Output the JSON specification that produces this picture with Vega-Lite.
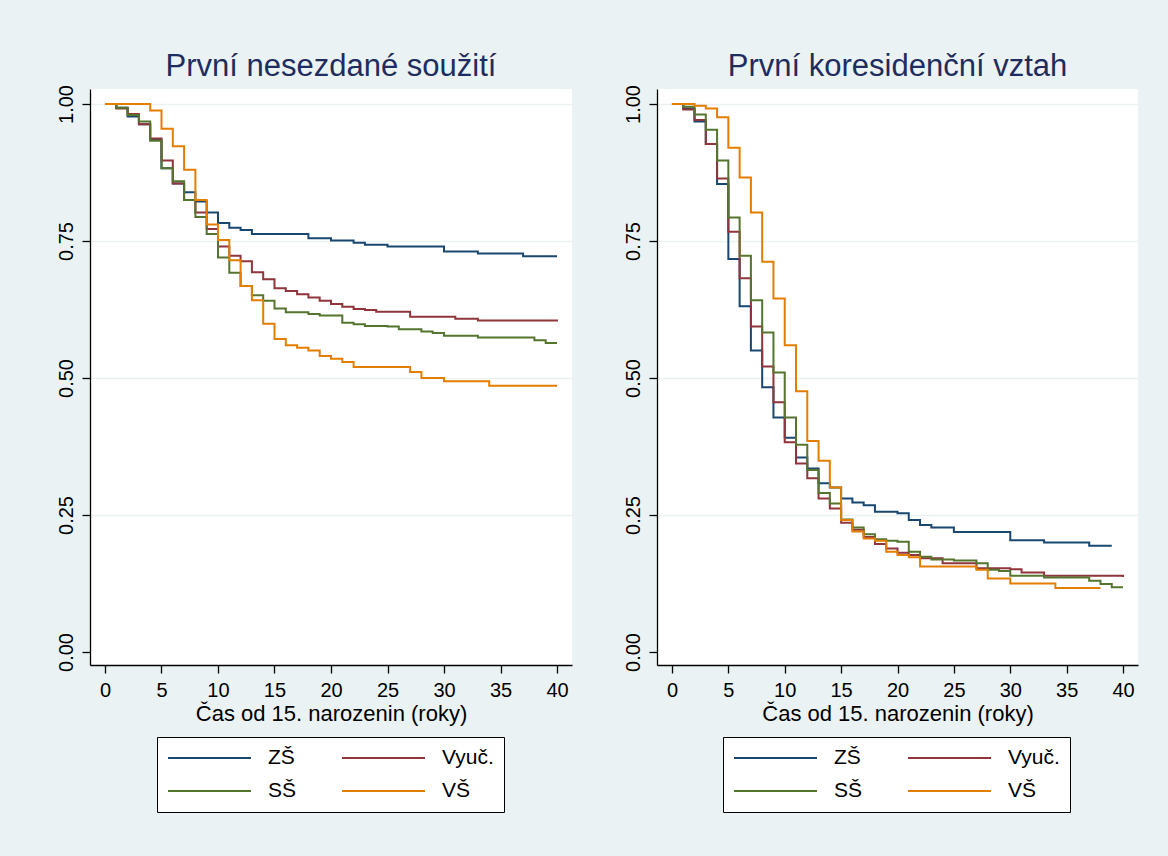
{
  "$schema": "https://vega.github.io/schema/vega-lite/v6.json",
  "background": "#EAF2F3",
  "padding": {"left": 56, "top": 50, "right": 30, "bottom": 46},
  "spacing": 51,
  "config": {
    "font": "Liberation Sans",
    "view": {"stroke": null, "fill": "white"},
    "title": {"fontSize": 31, "fontWeight": "normal", "color": "#1E2C5E", "anchor": "middle", "offset": 2},
    "axis": {"domainColor": "black", "tickColor": "black", "labelColor": "black", "titleColor": "black", "labelFontSize": 20, "titleFontSize": 22, "titleFontWeight": "normal", "tickSize": 8, "domainWidth": 1.3, "tickWidth": 1.3, "grid": false, "labelFont": "Liberation Sans", "titleFont": "Liberation Sans"},
    "legend": {"symbolType": "stroke", "symbolSize": 6889, "symbolStrokeWidth": 2, "labelFontSize": 21, "labelColor": "black", "labelFont": "Liberation Sans", "clipHeight": 22, "rowPadding": 11, "columnPadding": 44, "labelOffset": 16, "padding": 10, "strokeColor": "black", "fillColor": "white", "gridAlign": "each", "symbolOffset": 0, "labelLimit": 0}
  },
  "datasets": {
    "a": [
      {"g":"ZŠ","t":0,"s":1.0},{"g":"ZŠ","t":1,"s":0.993},{"g":"ZŠ","t":2,"s":0.977},{"g":"ZŠ","t":3,"s":0.963},{"g":"ZŠ","t":4,"s":0.935},{"g":"ZŠ","t":5,"s":0.883},{"g":"ZŠ","t":6,"s":0.855},{"g":"ZŠ","t":7,"s":0.839},{"g":"ZŠ","t":8,"s":0.822},{"g":"ZŠ","t":9,"s":0.802},{"g":"ZŠ","t":10,"s":0.783},{"g":"ZŠ","t":11,"s":0.774},{"g":"ZŠ","t":12,"s":0.770},{"g":"ZŠ","t":13,"s":0.763},{"g":"ZŠ","t":18,"s":0.755},{"g":"ZŠ","t":20,"s":0.751},{"g":"ZŠ","t":22,"s":0.747},{"g":"ZŠ","t":23,"s":0.743},{"g":"ZŠ","t":25,"s":0.740},{"g":"ZŠ","t":30,"s":0.731},{"g":"ZŠ","t":33,"s":0.727},{"g":"ZŠ","t":37,"s":0.722},{"g":"ZŠ","t":40,"s":0.722},
      {"g":"Vyuč.","t":0,"s":1.0},{"g":"Vyuč.","t":1,"s":0.992},{"g":"Vyuč.","t":2,"s":0.982},{"g":"Vyuč.","t":3,"s":0.963},{"g":"Vyuč.","t":4,"s":0.937},{"g":"Vyuč.","t":5,"s":0.897},{"g":"Vyuč.","t":6,"s":0.855},{"g":"Vyuč.","t":7,"s":0.825},{"g":"Vyuč.","t":8,"s":0.802},{"g":"Vyuč.","t":9,"s":0.772},{"g":"Vyuč.","t":10,"s":0.740},{"g":"Vyuč.","t":11,"s":0.723},{"g":"Vyuč.","t":12,"s":0.713},{"g":"Vyuč.","t":13,"s":0.693},{"g":"Vyuč.","t":14,"s":0.680},{"g":"Vyuč.","t":15,"s":0.664},{"g":"Vyuč.","t":16,"s":0.659},{"g":"Vyuč.","t":17,"s":0.653},{"g":"Vyuč.","t":18,"s":0.647},{"g":"Vyuč.","t":19,"s":0.641},{"g":"Vyuč.","t":20,"s":0.635},{"g":"Vyuč.","t":21,"s":0.630},{"g":"Vyuč.","t":22,"s":0.626},{"g":"Vyuč.","t":23,"s":0.624},{"g":"Vyuč.","t":24,"s":0.621},{"g":"Vyuč.","t":27,"s":0.612},{"g":"Vyuč.","t":31,"s":0.608},{"g":"Vyuč.","t":33,"s":0.605},{"g":"Vyuč.","t":40,"s":0.603},
      {"g":"SŠ","t":0,"s":1.0},{"g":"SŠ","t":1,"s":0.993},{"g":"SŠ","t":2,"s":0.980},{"g":"SŠ","t":3,"s":0.968},{"g":"SŠ","t":4,"s":0.933},{"g":"SŠ","t":5,"s":0.883},{"g":"SŠ","t":6,"s":0.859},{"g":"SŠ","t":7,"s":0.825},{"g":"SŠ","t":8,"s":0.794},{"g":"SŠ","t":9,"s":0.763},{"g":"SŠ","t":10,"s":0.720},{"g":"SŠ","t":11,"s":0.692},{"g":"SŠ","t":12,"s":0.668},{"g":"SŠ","t":13,"s":0.651},{"g":"SŠ","t":14,"s":0.641},{"g":"SŠ","t":15,"s":0.627},{"g":"SŠ","t":16,"s":0.620},{"g":"SŠ","t":18,"s":0.617},{"g":"SŠ","t":19,"s":0.614},{"g":"SŠ","t":21,"s":0.601},{"g":"SŠ","t":22,"s":0.598},{"g":"SŠ","t":23,"s":0.595},{"g":"SŠ","t":25,"s":0.594},{"g":"SŠ","t":26,"s":0.589},{"g":"SŠ","t":28,"s":0.585},{"g":"SŠ","t":29,"s":0.582},{"g":"SŠ","t":30,"s":0.577},{"g":"SŠ","t":33,"s":0.574},{"g":"SŠ","t":38,"s":0.569},{"g":"SŠ","t":39,"s":0.564},{"g":"SŠ","t":40,"s":0.564},
      {"g":"VŠ","t":0,"s":1.0},{"g":"VŠ","t":4,"s":0.988},{"g":"VŠ","t":5,"s":0.955},{"g":"VŠ","t":6,"s":0.923},{"g":"VŠ","t":7,"s":0.880},{"g":"VŠ","t":8,"s":0.825},{"g":"VŠ","t":9,"s":0.780},{"g":"VŠ","t":10,"s":0.752},{"g":"VŠ","t":11,"s":0.715},{"g":"VŠ","t":12,"s":0.668},{"g":"VŠ","t":13,"s":0.642},{"g":"VŠ","t":14,"s":0.599},{"g":"VŠ","t":15,"s":0.571},{"g":"VŠ","t":16,"s":0.560},{"g":"VŠ","t":17,"s":0.555},{"g":"VŠ","t":18,"s":0.550},{"g":"VŠ","t":19,"s":0.540},{"g":"VŠ","t":20,"s":0.535},{"g":"VŠ","t":21,"s":0.529},{"g":"VŠ","t":22,"s":0.520},{"g":"VŠ","t":27,"s":0.511},{"g":"VŠ","t":28,"s":0.500},{"g":"VŠ","t":30,"s":0.494},{"g":"VŠ","t":34,"s":0.486},{"g":"VŠ","t":40,"s":0.486}
    ],
    "b": [
      {"g":"ZŠ","t":0,"s":1.0},{"g":"ZŠ","t":1,"s":0.992},{"g":"ZŠ","t":2,"s":0.968},{"g":"ZŠ","t":3,"s":0.927},{"g":"ZŠ","t":4,"s":0.854},{"g":"ZŠ","t":5,"s":0.717},{"g":"ZŠ","t":6,"s":0.631},{"g":"ZŠ","t":7,"s":0.550},{"g":"ZŠ","t":8,"s":0.483},{"g":"ZŠ","t":9,"s":0.428},{"g":"ZŠ","t":10,"s":0.391},{"g":"ZŠ","t":11,"s":0.355},{"g":"ZŠ","t":12,"s":0.335},{"g":"ZŠ","t":13,"s":0.308},{"g":"ZŠ","t":14,"s":0.300},{"g":"ZŠ","t":15,"s":0.280},{"g":"ZŠ","t":16,"s":0.273},{"g":"ZŠ","t":17,"s":0.268},{"g":"ZŠ","t":18,"s":0.256},{"g":"ZŠ","t":20,"s":0.253},{"g":"ZŠ","t":21,"s":0.241},{"g":"ZŠ","t":22,"s":0.232},{"g":"ZŠ","t":23,"s":0.227},{"g":"ZŠ","t":25,"s":0.219},{"g":"ZŠ","t":30,"s":0.204},{"g":"ZŠ","t":33,"s":0.200},{"g":"ZŠ","t":37,"s":0.194},{"g":"ZŠ","t":39,"s":0.194},
      {"g":"Vyuč.","t":0,"s":1.0},{"g":"Vyuč.","t":1,"s":0.990},{"g":"Vyuč.","t":2,"s":0.971},{"g":"Vyuč.","t":3,"s":0.927},{"g":"Vyuč.","t":4,"s":0.864},{"g":"Vyuč.","t":5,"s":0.767},{"g":"Vyuč.","t":6,"s":0.682},{"g":"Vyuč.","t":7,"s":0.594},{"g":"Vyuč.","t":8,"s":0.521},{"g":"Vyuč.","t":9,"s":0.456},{"g":"Vyuč.","t":10,"s":0.383},{"g":"Vyuč.","t":11,"s":0.344},{"g":"Vyuč.","t":12,"s":0.317},{"g":"Vyuč.","t":13,"s":0.280},{"g":"Vyuč.","t":14,"s":0.262},{"g":"Vyuč.","t":15,"s":0.236},{"g":"Vyuč.","t":16,"s":0.223},{"g":"Vyuč.","t":17,"s":0.210},{"g":"Vyuč.","t":18,"s":0.197},{"g":"Vyuč.","t":19,"s":0.189},{"g":"Vyuč.","t":20,"s":0.181},{"g":"Vyuč.","t":21,"s":0.177},{"g":"Vyuč.","t":22,"s":0.171},{"g":"Vyuč.","t":24,"s":0.162},{"g":"Vyuč.","t":27,"s":0.153},{"g":"Vyuč.","t":30,"s":0.151},{"g":"Vyuč.","t":31,"s":0.145},{"g":"Vyuč.","t":33,"s":0.139},{"g":"Vyuč.","t":40,"s":0.137},
      {"g":"SŠ","t":0,"s":1.0},{"g":"SŠ","t":1,"s":0.995},{"g":"SŠ","t":2,"s":0.981},{"g":"SŠ","t":3,"s":0.953},{"g":"SŠ","t":4,"s":0.897},{"g":"SŠ","t":5,"s":0.793},{"g":"SŠ","t":6,"s":0.723},{"g":"SŠ","t":7,"s":0.642},{"g":"SŠ","t":8,"s":0.583},{"g":"SŠ","t":9,"s":0.510},{"g":"SŠ","t":10,"s":0.428},{"g":"SŠ","t":11,"s":0.378},{"g":"SŠ","t":12,"s":0.332},{"g":"SŠ","t":13,"s":0.290},{"g":"SŠ","t":14,"s":0.271},{"g":"SŠ","t":15,"s":0.242},{"g":"SŠ","t":16,"s":0.227},{"g":"SŠ","t":17,"s":0.215},{"g":"SŠ","t":18,"s":0.206},{"g":"SŠ","t":19,"s":0.203},{"g":"SŠ","t":20,"s":0.201},{"g":"SŠ","t":21,"s":0.183},{"g":"SŠ","t":22,"s":0.174},{"g":"SŠ","t":23,"s":0.169},{"g":"SŠ","t":25,"s":0.167},{"g":"SŠ","t":27,"s":0.162},{"g":"SŠ","t":28,"s":0.150},{"g":"SŠ","t":29,"s":0.148},{"g":"SŠ","t":30,"s":0.139},{"g":"SŠ","t":33,"s":0.136},{"g":"SŠ","t":37,"s":0.130},{"g":"SŠ","t":38,"s":0.124},{"g":"SŠ","t":39,"s":0.118},{"g":"SŠ","t":40,"s":0.118},
      {"g":"VŠ","t":0,"s":1.0},{"g":"VŠ","t":2,"s":0.997},{"g":"VŠ","t":3,"s":0.992},{"g":"VŠ","t":4,"s":0.976},{"g":"VŠ","t":5,"s":0.920},{"g":"VŠ","t":6,"s":0.866},{"g":"VŠ","t":7,"s":0.802},{"g":"VŠ","t":8,"s":0.712},{"g":"VŠ","t":9,"s":0.645},{"g":"VŠ","t":10,"s":0.560},{"g":"VŠ","t":11,"s":0.476},{"g":"VŠ","t":12,"s":0.385},{"g":"VŠ","t":13,"s":0.349},{"g":"VŠ","t":14,"s":0.300},{"g":"VŠ","t":15,"s":0.241},{"g":"VŠ","t":16,"s":0.220},{"g":"VŠ","t":17,"s":0.207},{"g":"VŠ","t":18,"s":0.203},{"g":"VŠ","t":19,"s":0.183},{"g":"VŠ","t":20,"s":0.177},{"g":"VŠ","t":21,"s":0.173},{"g":"VŠ","t":22,"s":0.156},{"g":"VŠ","t":27,"s":0.150},{"g":"VŠ","t":28,"s":0.134},{"g":"VŠ","t":30,"s":0.125},{"g":"VŠ","t":34,"s":0.117},{"g":"VŠ","t":38,"s":0.117}
    ]
  },
  "resolve": {"legend": {"color": "independent"}},
  "hconcat": [
    {
      "width": 482, "height": 576,
      "title": "První nesezdané soužití",
      "data": {"name": "a"},
      "mark": {"type": "line", "interpolate": "step-after", "strokeWidth": 2},
      "encoding": {
        "x": {"field": "t", "type": "quantitative", "scale": {"domain": [-1.327, 41.327], "nice": false, "zero": false}, "axis": {"values": [0,5,10,15,20,25,30,35,40], "title": "Čas od 15. narozenin (roky)", "labelPadding": 7, "titlePadding": 3}},
        "y": {"field": "s", "type": "quantitative", "scale": {"domain": [-0.0237, 1.0274], "nice": false, "zero": false}, "axis": {"values": [0,0.25,0.5,0.75,1], "format": ".2f", "labelAngle": -90, "labelPadding": 6, "grid": true, "gridColor": "#EAF2F3", "gridWidth": 1.5, "gridOpacity": {"condition": {"test": "datum.value == 0", "value": 0}, "value": 1}, "title": null}},
        "color": {"field": "g", "type": "nominal", "sort": ["ZŠ","SŠ","Vyuč.","VŠ"], "scale": {"domain": ["ZŠ","SŠ","Vyuč.","VŠ"], "range": ["#1A476F","#55752F","#90353B","#E37E00"]}, "legend": {"orient": "none", "legendX": 67, "legendY": 648, "columns": 2, "title": null}}
      }
    },
    {
      "width": 481, "height": 576,
      "title": "První koresidenční vztah",
      "data": {"name": "b"},
      "mark": {"type": "line", "interpolate": "step-after", "strokeWidth": 2},
      "encoding": {
        "x": {"field": "t", "type": "quantitative", "scale": {"domain": [-1.327, 41.327], "nice": false, "zero": false}, "axis": {"values": [0,5,10,15,20,25,30,35,40], "title": "Čas od 15. narozenin (roky)", "labelPadding": 7, "titlePadding": 3}},
        "y": {"field": "s", "type": "quantitative", "scale": {"domain": [-0.0237, 1.0274], "nice": false, "zero": false}, "axis": {"values": [0,0.25,0.5,0.75,1], "format": ".2f", "labelAngle": -90, "labelPadding": 6, "grid": true, "gridColor": "#EAF2F3", "gridWidth": 1.5, "gridOpacity": {"condition": {"test": "datum.value == 0", "value": 0}, "value": 1}, "title": null}},
        "color": {"field": "g", "type": "nominal", "sort": ["ZŠ","SŠ","Vyuč.","VŠ"], "scale": {"domain": ["ZŠ","SŠ","Vyuč.","VŠ"], "range": ["#1A476F","#55752F","#90353B","#E37E00"]}, "legend": {"orient": "none", "legendX": 66, "legendY": 648, "columns": 2, "title": null}}
      }
    }
  ]
}
